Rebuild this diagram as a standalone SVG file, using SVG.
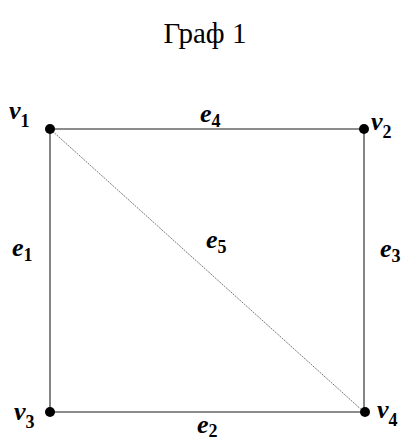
<svg xmlns="http://www.w3.org/2000/svg" width="406" height="444" viewBox="0 0 406 444">
<style>
.edge{stroke:#666;stroke-width:1.6;fill:none}
.diag{stroke:#555;stroke-width:0.8;stroke-dasharray:2 1;fill:none}
.dot{fill:#000}
.lbl{font-family:"Liberation Serif",serif;font-style:italic;font-weight:bold;font-size:26px;fill:#000}
.sub{font-size:18px;font-style:normal}
.title{font-family:"Liberation Serif",serif;font-size:29px;fill:#000}
</style>
<rect width="406" height="444" fill="#fff"/>
<text class="title" x="205" y="43" text-anchor="middle">Граф 1</text>
<g id="edges">
<line class="edge" x1="50" y1="129" x2="364" y2="129"/>
<line class="edge" x1="50" y1="129" x2="50" y2="412"/>
<line class="edge" x1="364" y1="129" x2="364" y2="412"/>
<line class="edge" x1="50" y1="412" x2="364" y2="412"/>
<line class="diag" x1="50" y1="129" x2="364" y2="412"/>
<text class="lbl" x="200" y="122">e<tspan class="sub" dy="5">4</tspan></text>
<text class="lbl" x="206" y="248">e<tspan class="sub" dy="5">5</tspan></text>
<text class="lbl" x="12" y="256">e<tspan class="sub" dy="5">1</tspan></text>
<text class="lbl" x="380" y="257">e<tspan class="sub" dy="5">3</tspan></text>
<text class="lbl" x="197" y="433">e<tspan class="sub" dy="4">2</tspan></text>
</g>
<g id="v1"><circle class="dot" cx="50" cy="129" r="5"/><text class="lbl" x="9" y="119">v<tspan class="sub" dy="8">1</tspan></text></g>
<g id="v2"><circle class="dot" cx="364" cy="129" r="5"/><text class="lbl" x="371" y="130">v<tspan class="sub" dy="8">2</tspan></text></g>
<g id="v3"><circle class="dot" cx="50" cy="412" r="5"/><text class="lbl" x="14" y="420">v<tspan class="sub" dy="8">3</tspan></text></g>
<g id="v4"><circle class="dot" cx="365" cy="412" r="5"/><text class="lbl" x="377" y="418">v<tspan class="sub" dy="8">4</tspan></text></g>
</svg>
